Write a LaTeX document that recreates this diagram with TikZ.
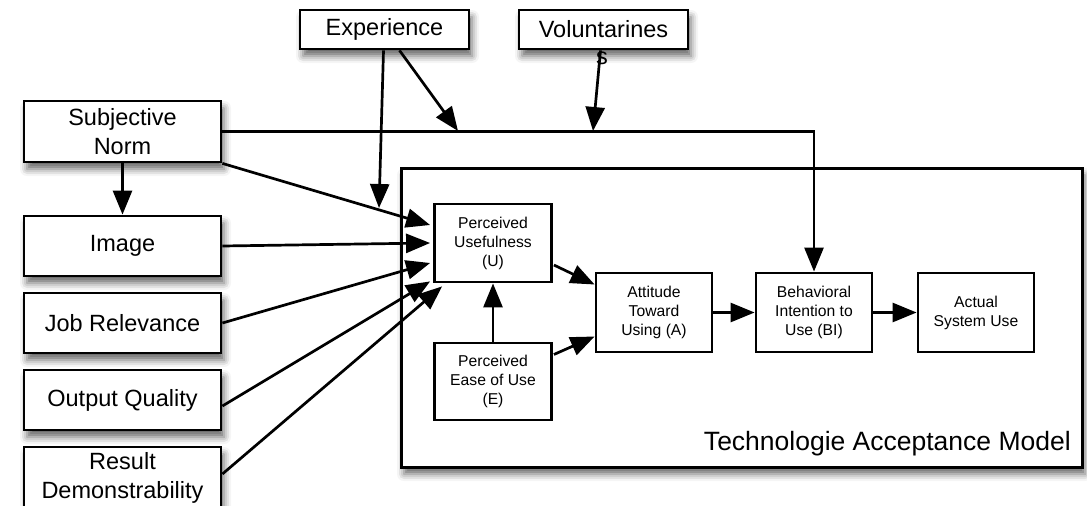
\documentclass[tikz,border=0pt]{standalone}
\usepackage{fontspec}
\setmainfont{Liberation Sans}
\usetikzlibrary{arrows.meta,calc,shadows.blur}
\begin{document}
\begin{tikzpicture}[x=1pt,y=-1pt,
  shad/.style={blur shadow={shadow xshift=3pt, shadow yshift=-7pt, shadow blur radius=7pt, shadow opacity=60}},
  outerbox/.style={draw, line width=2.8pt, fill=white, inner sep=0pt, align=center,
    minimum width=197pt, minimum height=60pt, font=\fontsize{23.5}{29}\selectfont, shad},
  innerbox/.style={draw, line width=2.8pt, fill=white, inner sep=0pt, align=center,
    minimum width=117pt, minimum height=78pt, font=\fontsize{15.7}{19}\selectfont},
  arr/.style={line width=2.7pt, -{Triangle[length=24pt,width=19pt]}}
]
\useasboundingbox (0,0) rectangle (1087,506);
\clip (0,0) rectangle (1087,506);

% TAM frame
\node[draw, line width=3pt, fill=white, minimum width=681pt, minimum height=299pt, inner sep=0pt, shad] (tam) at (741.5,317.5) {};
\node[anchor=base east, font=\fontsize{26.5}{30}\selectfont, inner sep=0pt] (tamlabel) at (1071,450) {Technologie Acceptance Model};

% outer boxes
\node[outerbox, minimum width=169pt, minimum height=39pt] (exp) at (384.5,29.5) {Experience};
\node[outerbox, minimum width=169pt, minimum height=39pt] (vol) at (603.5,29.5) {Voluntarines};
\node[outerbox, minimum height=61pt] (sn) at (122.5,131.5) {Subjective\\Norm};
\node[outerbox] (img) at (122.5,246) {Image};
\node[outerbox] (job) at (122.5,323) {Job Relevance};
\node[outerbox] (out) at (122.5,400) {Output Quality};
\node[outerbox, minimum height=62pt] (res) at (122.5,478) {Result\\Demonstrability};

% inner boxes
\node[innerbox] (pu) at (493,243) {Perceived\\Usefulness\\(U)};
\node[innerbox, minimum height=77pt] (peu) at (493,381.5) {Perceived\\Ease of Use\\(E)};
\node[innerbox, minimum width=116pt, minimum height=79pt] (att) at (654,312.5) {Attitude\\Toward\\Using (A)};
\node[innerbox, minimum width=116pt, minimum height=79pt] (bi) at (814,312.5) {Behavioral\\Intention to\\Use (BI)};
\node[innerbox, minimum width=116pt, minimum height=79pt] (asu) at (976,312.5) {Actual\\System Use};

% connectors
\coordinate (e1) at (458,131);
\coordinate (v1) at (593,131);
\coordinate (e2) at (379,208);
\draw[arr] (sn.east) -| (bi.north);
\draw[arr] ($(exp.south)+(15,0)$) -- (e1);
\draw[arr] ($(vol.south)+(-3,0)$) -- (v1);
\draw[arr] ($(exp.south)+(-1,0)$) -- (e2);
\draw[arr] (sn.south) -- (img.north);
\draw[arr] (sn.south east) -- ($(pu.west)+(-3,-18)$);
\draw[arr] (img.east) -- ($(pu.west)+(-3,0)$);
\draw[arr] (job.east) -- ($(pu.west)+(-3,20)$);
\draw[arr] ($(out.east)+(0,6)$) -- ($(pu.south west)+(-3,-2)$);
\draw[arr] ($(res.east)+(0,-4)$) -- ($(pu.south west)+(9,3)$);
\draw[arr] (peu.north) -- (pu.south);
\draw[arr] ($(pu.east)+(1,22)$) -- ($(att.west)+(0,-28)$);
\draw[arr] ($(peu.east)+(1,-27)$) -- ($(att.west)+(0,24)$);
\draw[arr] (att) -- (bi);
\draw[arr] (bi) -- (asu);

\node[font=\fontsize{23.5}{29}\selectfont, inner sep=0pt] (vols) at (602,58) {s};
\end{tikzpicture}
\end{document}
